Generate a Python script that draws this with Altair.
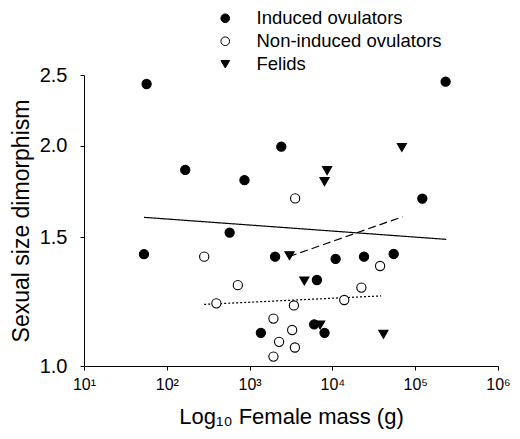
import altair as alt
import pandas as pd

# ---- data ----
induced_mass = [57, 167, 867, 2415, 233000, 122000, 574, 53, 2032, 10940, 24100, 55000, 6500, 1368, 6026, 8035]
induced_ssd = [2.43, 1.854, 1.795, 1.995, 2.448, 1.694, 1.522, 1.422, 1.411, 1.401, 1.411, 1.423, 1.311, 1.110, 1.140, 1.110]

noninduced_mass = [3548, 283, 37670, 22390, 13900, 721, 397, 3428, 1941, 3266, 2270, 3524, 1941]
noninduced_ssd = [1.695, 1.411, 1.370, 1.280, 1.231, 1.290, 1.218, 1.210, 1.161, 1.120, 1.079, 1.060, 1.030]

felid_mass = [69000, 8630, 8035, 3034, 4581, 7112, 41300]
felid_ssd = [1.990, 1.850, 1.787, 1.415, 1.307, 1.138, 1.105]

groups = ["Induced ovulators", "Non-induced ovulators", "Felids"]

# regression lines (end points): solid = induced, dashed = felids, dotted = non-induced
fit_style = ["solid", "solid", "dashed", "dashed", "dotted", "dotted"]
fit_mass = [53, 237000, 2985, 70300, 283, 38700]
fit_ssd = [1.597, 1.490, 1.411, 1.600, 1.214, 1.247]

x_ticks = [10, 100, 1000, 10000, 100000, 1000000]
y_ticks = [1.0, 1.5, 2.0, 2.5]

pts = pd.DataFrame({
    "mass": induced_mass + noninduced_mass + felid_mass,
    "ssd": induced_ssd + noninduced_ssd + felid_ssd,
    "group": [groups[0]] * len(induced_mass) + [groups[1]] * len(noninduced_mass) + [groups[2]] * len(felid_mass),
})
fits = pd.DataFrame({"mass": fit_mass, "ssd": fit_ssd, "style": fit_style})

xscale = alt.Scale(type="log", domain=[10, 1000000], nice=False)
yscale = alt.Scale(type="log", domain=[1.0, 2.5], nice=False)

xaxis = alt.Axis(
    values=x_ticks, title="Log\u2081\u2080 Female mass (g)",
    labelExpr="'10' + ['\u2070','\u00b9','\u00b2','\u00b3','\u2074','\u2075','\u2076'][round(log(datum.value)/LN10)]",
    labelFontSize=16, titleFontSize=22, titleFontWeight="normal",
    tickSize=4, labelPadding=6, titlePadding=14, labelFlush=False,
)
yaxis = alt.Axis(
    values=y_ticks, format=".1f", title="Sexual size dimorphism",
    labelFontSize=20, titleFontSize=23, titleFontWeight="normal",
    tickSize=4, labelPadding=13, titlePadding=6,
)

legend = alt.Legend(
    title=None, orient="none", legendX=132, legendY=-66, padding=0,
    labelFontSize=18.5, labelFont="Liberation Sans", labelColor="black", labelLimit=0,
    symbolSize=75, symbolStrokeColor="black", symbolStrokeWidth=1,
    labelOffset=22, rowPadding=4,
)

lines = alt.Chart(fits).mark_line(color="black", strokeWidth=1.2).encode(
    x=alt.X("mass:Q", scale=xscale, axis=xaxis),
    y=alt.Y("ssd:Q", scale=yscale, axis=yaxis),
    strokeDash=alt.StrokeDash(
        "style:N",
        scale=alt.Scale(domain=["solid", "dashed", "dotted"], range=[[1, 0], [8, 4], [2, 2]]),
        legend=None,
    ),
)

points = alt.Chart(pts).mark_point(
    filled=False, strokeWidth=1.1, size=85, opacity=1, fillOpacity=1, strokeOpacity=1
).encode(
    x=alt.X("mass:Q", scale=xscale),
    y=alt.Y("ssd:Q", scale=yscale),
    shape=alt.Shape("group:N", scale=alt.Scale(domain=groups, range=["circle", "circle", "triangle-down"]),
                    legend=legend),
    fill=alt.Fill("group:N", scale=alt.Scale(domain=groups, range=["black", "white", "black"]),
                  legend=legend),
    stroke=alt.Stroke("group:N", scale=alt.Scale(domain=groups, range=["black", "black", "black"]),
                      legend=legend),
)

chart = alt.layer(lines, points).properties(
    width=414, height=291,
    autosize=alt.AutoSizeParams(type="none"),
    padding={"left": 76, "top": 67, "right": 14, "bottom": 65},
).configure_view(stroke=None).configure_axis(
    grid=False, domainColor="black", tickColor="black", labelColor="black",
    titleColor="black", labelFont="Liberation Sans", titleFont="Liberation Sans",
    domainWidth=1, tickWidth=1,
)

chart.save("out.html", embed_options={"renderer": "svg", "actions": False})
